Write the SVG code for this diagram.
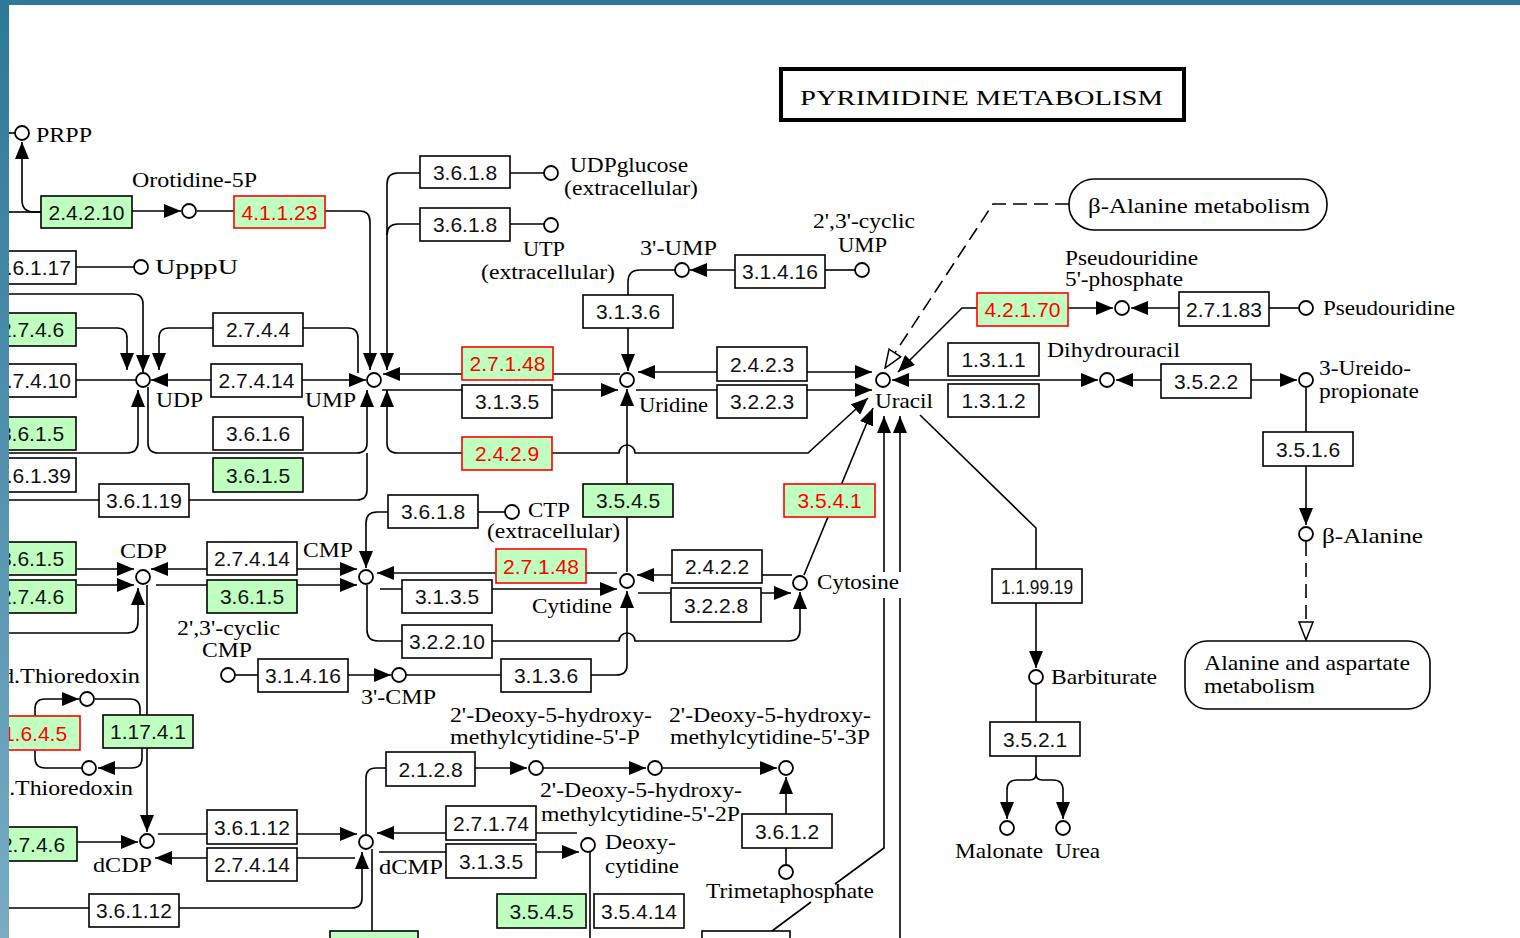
<svg xmlns="http://www.w3.org/2000/svg" width="1520" height="938" viewBox="0 0 1520 938">
<style>
.ln{fill:none;stroke:#000;stroke-width:1.6}
.ar{marker-end:url(#ah)}
.as{marker-start:url(#ah)}
.dash{stroke-dasharray:14 7}
.oa{marker-end:url(#oh)}
.ec rect{fill:#fff;stroke:#000;stroke-width:1.6}
.g rect{fill:#bfffbf}
.r rect{fill:#bfffbf;stroke:#f00}
.ec text{font-family:"Liberation Sans",Arial,sans-serif;font-size:21px;text-anchor:middle;fill:#111}
.r text{fill:#f00}
.cp circle{fill:#fff;stroke:#000;stroke-width:1.8}
.cp text,.lb{font-family:"Liberation Serif","Times New Roman",serif;font-size:21px;fill:#000}
.map rect{fill:#fff;stroke:#000;stroke-width:1.6}
</style>
<defs>
<marker id="ah" viewBox="0 0 17 14" refX="17" refY="7" markerWidth="17" markerHeight="14" markerUnits="userSpaceOnUse" orient="auto-start-reverse"><path d="M0,0 L17,7 L0,14 z" fill="#000"/></marker>
<marker id="oh" viewBox="0 0 20 16" refX="19" refY="8" markerWidth="20" markerHeight="16" markerUnits="userSpaceOnUse" orient="auto"><path d="M1,1 L19,8 L1,15 z" fill="#fff" stroke="#000" stroke-width="1.5"/></marker>
<linearGradient id="band" x1="0" y1="0" x2="0" y2="1"><stop offset="0" stop-color="#2d7898"/><stop offset="1" stop-color="#78acc5"/></linearGradient>
</defs>
<rect x="0" y="0" width="1520" height="938" fill="#fff"/>

<g id="connectors">
<path class="ln" d="M9,212 H41"/>
<path class="ln ar" d="M41,212 H34 Q22,212 22,200 V142"/>
<path class="ln" d="M9,133 H15"/>
<path class="ln ar" d="M132,211 H181"/>
<path class="ln" d="M197,211 H234"/>
<path class="ln ar" d="M325,211 H360 Q370,211 370,222 V370"/>
<path class="ln ar" d="M420,173 H398 Q387,173 387,184 V370"/>
<path class="ln" d="M420,224 H398 Q387,224 387,235"/>
<path class="ln" d="M510,173 H544"/>
<path class="ln" d="M510,224 H544"/>
<path class="ln" d="M76,267 H134"/>
<path class="ln ar" d="M76,328 H117 Q127,328 127,338 V370"/>
<path class="ln ar" d="M9,294 H133 Q143,294 143,304 V372"/>
<path class="ln ar" d="M213,328 H169 Q159,328 159,338 V370"/>
<path class="ln" d="M303,328 H348 Q358,328 358,338 V373"/>
<path class="ln" d="M76,380 H136"/>
<path class="ln ar" d="M211,380 H151"/>
<path class="ln ar" d="M302,380 H366"/>
<path class="ln ar" d="M620,374 H383"/>
<path class="ln ar" d="M382,390 H618"/>
<path class="ln as ar" d="M638,372 H872"/>
<path class="ln ar" d="M636,390 H872"/>
<path class="ln" d="M628,295 V282 Q628,270 640,270 H675"/>
<path class="ln ar" d="M628,328 V371"/>
<path class="ln ar" d="M735,270 H690"/>
<path class="ln" d="M825,270 H855"/>
<path class="ln ar" d="M9,453 H127 Q138,453 138,442 V390"/>
<path class="ln ar" d="M148,387 V443 Q148,453 158,453 H357 Q367,453 367,443 V390"/>
<path class="ln" d="M9,500 H99"/>
<path class="ln" d="M189,500 H357 Q367,500 367,490 V453"/>
<path class="ln ar" d="M462,453 H397 Q387,453 387,443 V390"/>
<path class="ln ar" d="M552,453 H619 A8,8 0 0 1 635,453 H808 L868,398"/>
<path class="ln ar" d="M627,484 V389"/>
<path class="ln" d="M627,517 V572"/>
<path class="ln dash oa" d="M1069,204 H993 L885,368"/>
<path class="ln ar" d="M977,308 H962 L898,372"/>
<path class="ln as ar" d="M892,380 H1098"/>
<path class="ln ar" d="M1068,308 H1113"/>
<path class="ln ar" d="M1179,308 H1131"/>
<path class="ln" d="M1269,308 H1299"/>
<path class="ln ar" d="M1161,380 H1116"/>
<path class="ln ar" d="M1251,380 H1297"/>
<path class="ln" d="M1306,388 V432"/>
<path class="ln ar" d="M1306,466 V525"/>
<path class="ln dash oa" d="M1306,542 V640"/>
<path class="ln ar" d="M884,572 V416"/>
<path class="ln" d="M835,884 L884,848 V598"/>
<path class="ln" d="M772,931 L811,902"/>
<path class="ln ar" d="M900,572 V416"/>
<path class="ln" d="M900,938 V598"/>
<path class="ln" d="M920,415 L1036,528 V569"/>
<path class="ln ar" d="M1036,603 V668"/>
<path class="ln" d="M1036,685 V722"/>
<path class="ln ar" d="M1036,756 V774 Q1036,780 1030,780 H1017 Q1007,780 1007,790 V819"/>
<path class="ln ar" d="M1036,774 Q1036,780 1042,780 H1053 Q1063,780 1063,790 V819"/>
<path class="ln" d="M762,575 H792"/>
<path class="ln ar" d="M672,575 H637"/>
<path class="ln ar" d="M638,593 H791"/>
<path class="ln ar" d="M367,585 V630 Q367,641 378,641 H619 A8,8 0 0 1 635,641 H789 Q800,641 800,630 V592"/>
<path class="ln ar" d="M804,575 L873,408"/>
<path class="ln ar" d="M617,573 H377"/>
<path class="ln ar" d="M380,589 H617"/>
<path class="ln as" d="M627,591 V665 Q627,675 617,675 H591"/>
<path class="ln" d="M501,675 H406"/>
<path class="ln ar" d="M388,512 H377 Q366,512 366,523 V568"/>
<path class="ln" d="M478,512 H505"/>
<path class="ln as ar" d="M151,569 H357"/>
<path class="ln ar" d="M156,585 H357"/>
<path class="ln ar" d="M77,569 H134"/>
<path class="ln ar" d="M77,585 H134"/>
<path class="ln ar" d="M9,633 H127 Q138,633 138,622 V588"/>
<path class="ln ar" d="M147,585 V832"/>
<path class="ln ar" d="M35,716 V709 Q35,699 45,699 H79"/>
<path class="ln" d="M95,699 H130 Q140,699 140,709 V715"/>
<path class="ln ar" d="M142,748 V758 Q142,768 132,768 H98"/>
<path class="ln" d="M82,768 H45 Q35,768 35,758 V750"/>
<path class="ln ar" d="M77,842 H138"/>
<path class="ln ar" d="M158,834 H357"/>
<path class="ln ar" d="M355,858 H155"/>
<path class="ln ar" d="M9,908 H352 Q362,908 362,898 V852"/>
<path class="ln" d="M372,849 V938"/>
<path class="ln ar" d="M577,833 H377"/>
<path class="ln ar" d="M379,852 H579"/>
<path class="ln" d="M366,834 V778 Q366,768 376,768 H386"/>
<path class="ln ar" d="M475,768 H527"/>
<path class="ln ar" d="M543,768 H646"/>
<path class="ln ar" d="M662,768 H777"/>
<path class="ln ar" d="M786,814 V777"/>
<path class="ln" d="M786,848 V865"/>
<path class="ln" d="M590,852 V938"/>
<path class="ln" d="M235,675 H258"/>
<path class="ln ar" d="M348,675 H391"/>
</g>

<g id="title"><rect x="781" y="69" width="403" height="51" fill="#fff" stroke="#000" stroke-width="4"/><text class="lb" x="800" y="105" font-size="27" textLength="363" lengthAdjust="spacingAndGlyphs">PYRIMIDINE METABOLISM</text></g>
<g id="map_bala" class="map"><rect x="1069" y="179" width="258" height="51" rx="25"/><text class="lb" x="1088" y="213" textLength="222" lengthAdjust="spacingAndGlyphs">β-Alanine metabolism</text></g>
<g id="map_alaasp" class="map"><rect x="1185" y="641" width="245" height="68" rx="22"/><text class="lb" x="1204" y="670" textLength="206" lengthAdjust="spacingAndGlyphs">Alanine and aspartate</text><text class="lb" x="1204" y="693" textLength="111" lengthAdjust="spacingAndGlyphs">metabolism</text></g>

<g id="e_2.4.2.10" class="ec g"><rect x="41" y="196" width="91" height="32"/><text x="86.5" y="219.5">2.4.2.10</text></g>
<g id="e_4.1.1.23" class="ec r"><rect x="234" y="196" width="91" height="32"/><text x="279.5" y="219.5">4.1.1.23</text></g>
<g id="e_3.6.1.17" class="ec"><rect x="-14" y="251" width="90" height="33"/><text x="33" y="275">3.6.1.17</text></g>
<g id="e_2.7.4.6a" class="ec g"><rect x="-14" y="313" width="90" height="33"/><text x="32" y="337">2.7.4.6</text></g>
<g id="e_2.7.4.10" class="ec"><rect x="-14" y="364" width="90" height="33"/><text x="33" y="388">2.7.4.10</text></g>
<g id="e_3.6.1.5a" class="ec g"><rect x="-14" y="417" width="90" height="33"/><text x="32" y="441">3.6.1.5</text></g>
<g id="e_3.6.1.39" class="ec"><rect x="-14" y="458" width="90" height="34"/><text x="33" y="482.5">3.6.1.39</text></g>
<g id="e_3.6.1.19" class="ec"><rect x="99" y="484" width="90" height="33"/><text x="144" y="508">3.6.1.19</text></g>
<g id="e_3.6.1.5b" class="ec g"><rect x="-14" y="542" width="90" height="33"/><text x="32" y="566">3.6.1.5</text></g>
<g id="e_2.7.4.6b" class="ec g"><rect x="-14" y="580" width="90" height="33"/><text x="32" y="604">2.7.4.6</text></g>
<g id="e_1.6.4.5" class="ec r"><rect x="-10" y="716" width="90" height="34"/><text x="35" y="740.5">1.6.4.5</text></g>
<g id="e_1.17.4.1" class="ec g"><rect x="103" y="715" width="90" height="33"/><text x="148" y="739">1.17.4.1</text></g>
<g id="e_2.7.4.6c" class="ec g"><rect x="-14" y="827" width="91" height="34"/><text x="33" y="851.5">2.7.4.6</text></g>
<g id="e_3.6.1.12b" class="ec"><rect x="89" y="894" width="90" height="33"/><text x="134" y="918">3.6.1.12</text></g>
<g id="e_2.7.4.4" class="ec"><rect x="213" y="313" width="90" height="33"/><text x="258" y="337">2.7.4.4</text></g>
<g id="e_2.7.4.14a" class="ec"><rect x="211" y="364" width="91" height="33"/><text x="256.5" y="388">2.7.4.14</text></g>
<g id="e_3.6.1.6" class="ec"><rect x="213" y="417" width="90" height="33"/><text x="258" y="441">3.6.1.6</text></g>
<g id="e_3.6.1.5c" class="ec g"><rect x="213" y="458" width="90" height="34"/><text x="258" y="482.5">3.6.1.5</text></g>
<g id="e_3.6.1.8a" class="ec"><rect x="420" y="156" width="90" height="32"/><text x="465" y="179.5">3.6.1.8</text></g>
<g id="e_3.6.1.8b" class="ec"><rect x="420" y="208" width="90" height="33"/><text x="465" y="232">3.6.1.8</text></g>
<g id="e_3.1.3.6a" class="ec"><rect x="583" y="295" width="90" height="33"/><text x="628" y="319">3.1.3.6</text></g>
<g id="e_3.1.4.16a" class="ec"><rect x="735" y="255" width="90" height="33"/><text x="780" y="279">3.1.4.16</text></g>
<g id="e_2.7.1.48a" class="ec r"><rect x="462" y="347" width="91" height="33"/><text x="507.5" y="371">2.7.1.48</text></g>
<g id="e_3.1.3.5a" class="ec"><rect x="462" y="385" width="90" height="33"/><text x="507" y="409">3.1.3.5</text></g>
<g id="e_2.4.2.9" class="ec r"><rect x="462" y="437" width="90" height="33"/><text x="507" y="461">2.4.2.9</text></g>
<g id="e_2.4.2.3" class="ec"><rect x="717" y="347" width="90" height="34"/><text x="762" y="371.5">2.4.2.3</text></g>
<g id="e_3.2.2.3" class="ec"><rect x="717" y="385" width="90" height="33"/><text x="762" y="409">3.2.2.3</text></g>
<g id="e_3.5.4.5a" class="ec g"><rect x="583" y="484" width="90" height="33"/><text x="628" y="508">3.5.4.5</text></g>
<g id="e_3.5.4.1" class="ec r"><rect x="784" y="484" width="91" height="33"/><text x="829.5" y="508">3.5.4.1</text></g>
<g id="e_3.6.1.8c" class="ec"><rect x="388" y="495" width="90" height="33"/><text x="433" y="519">3.6.1.8</text></g>
<g id="e_2.7.4.14b" class="ec"><rect x="207" y="542" width="90" height="33"/><text x="252" y="566">2.7.4.14</text></g>
<g id="e_3.6.1.5d" class="ec g"><rect x="207" y="580" width="90" height="33"/><text x="252" y="604">3.6.1.5</text></g>
<g id="e_2.7.1.48b" class="ec r"><rect x="496" y="549" width="90" height="34"/><text x="541" y="573.5">2.7.1.48</text></g>
<g id="e_3.1.3.5b" class="ec"><rect x="402" y="580" width="90" height="33"/><text x="447" y="604">3.1.3.5</text></g>
<g id="e_2.4.2.2" class="ec"><rect x="672" y="550" width="90" height="33"/><text x="717" y="574">2.4.2.2</text></g>
<g id="e_3.2.2.8" class="ec"><rect x="671" y="588" width="90" height="34"/><text x="716" y="612.5">3.2.2.8</text></g>
<g id="e_3.2.2.10" class="ec"><rect x="402" y="625" width="90" height="33"/><text x="447" y="649">3.2.2.10</text></g>
<g id="e_3.1.4.16b" class="ec"><rect x="258" y="659" width="90" height="33"/><text x="303" y="683">3.1.4.16</text></g>
<g id="e_3.1.3.6b" class="ec"><rect x="501" y="659" width="90" height="33"/><text x="546" y="683">3.1.3.6</text></g>
<g id="e_2.1.2.8" class="ec"><rect x="386" y="752" width="89" height="34"/><text x="430.5" y="776.5">2.1.2.8</text></g>
<g id="e_2.7.1.74" class="ec"><rect x="446" y="806" width="90" height="34"/><text x="491" y="830.5">2.7.1.74</text></g>
<g id="e_3.1.3.5c" class="ec"><rect x="446" y="844" width="90" height="34"/><text x="491" y="868.5">3.1.3.5</text></g>
<g id="e_3.6.1.12a" class="ec"><rect x="207" y="810" width="90" height="34"/><text x="252" y="834.5">3.6.1.12</text></g>
<g id="e_2.7.4.14c" class="ec"><rect x="207" y="848" width="90" height="33"/><text x="252" y="872">2.7.4.14</text></g>
<g id="e_3.6.1.2" class="ec"><rect x="742" y="814" width="90" height="34"/><text x="787" y="838.5">3.6.1.2</text></g>
<g id="e_3.5.4.5b" class="ec g"><rect x="497" y="894" width="89" height="34"/><text x="541.5" y="918.5">3.5.4.5</text></g>
<g id="e_3.5.4.14" class="ec"><rect x="594" y="894" width="90" height="34"/><text x="639" y="918.5">3.5.4.14</text></g>
<g id="e_bottom1" class="ec g"><rect x="330" y="931" width="88" height="30"/></g>
<g id="e_bottom2" class="ec"><rect x="702" y="931" width="88" height="30"/></g>
<g id="e_4.2.1.70" class="ec r"><rect x="977" y="293" width="91" height="33"/><text x="1022.5" y="317">4.2.1.70</text></g>
<g id="e_2.7.1.83" class="ec"><rect x="1179" y="292" width="90" height="34"/><text x="1224" y="316.5">2.7.1.83</text></g>
<g id="e_1.3.1.1" class="ec"><rect x="948" y="343" width="91" height="33"/><text x="993.5" y="367">1.3.1.1</text></g>
<g id="e_1.3.1.2" class="ec"><rect x="948" y="384" width="91" height="33"/><text x="993.5" y="408">1.3.1.2</text></g>
<g id="e_3.5.2.2" class="ec"><rect x="1161" y="364" width="90" height="34"/><text x="1206" y="388.5">3.5.2.2</text></g>
<g id="e_3.5.1.6" class="ec"><rect x="1263" y="432" width="90" height="34"/><text x="1308" y="456.5">3.5.1.6</text></g>
<g id="e_1.1.99.19" class="ec"><rect x="992" y="569" width="90" height="34"/><text x="1037" y="593.5" textLength="72" lengthAdjust="spacingAndGlyphs">1.1.99.19</text></g>
<g id="e_3.5.2.1" class="ec"><rect x="990" y="722" width="90" height="34"/><text x="1035" y="746.5">3.5.2.1</text></g>

<g id="c_prpp" class="cp"><circle cx="22" cy="133" r="7"/><text x="36" y="142" textLength="56" lengthAdjust="spacingAndGlyphs">PRPP</text></g>
<g id="c_orotidine5p" class="cp"><circle cx="189" cy="211" r="7"/><text x="132" y="187" textLength="125" lengthAdjust="spacingAndGlyphs">Orotidine-5P</text></g>
<g id="c_upppu" class="cp"><circle cx="141" cy="267" r="7"/><text x="155" y="274" textLength="83" lengthAdjust="spacingAndGlyphs">UpppU</text></g>
<g id="c_udpglucose" class="cp"><circle cx="551" cy="173" r="7"/><text x="570" y="172" textLength="118" lengthAdjust="spacingAndGlyphs">UDPglucose</text><text x="564" y="195" textLength="134" lengthAdjust="spacingAndGlyphs">(extracellular)</text></g>
<g id="c_utp_ext" class="cp"><circle cx="551" cy="225" r="7"/><text x="523" y="256" textLength="42" lengthAdjust="spacingAndGlyphs">UTP</text><text x="481" y="279" textLength="134" lengthAdjust="spacingAndGlyphs">(extracellular)</text></g>
<g id="c_3ump" class="cp"><circle cx="682" cy="270" r="7"/><text x="640" y="255" textLength="77" lengthAdjust="spacingAndGlyphs">3'-UMP</text></g>
<g id="c_cump" class="cp"><circle cx="862" cy="270" r="7"/><text x="813" y="228" textLength="102" lengthAdjust="spacingAndGlyphs">2',3'-cyclic</text><text x="838" y="252" textLength="49" lengthAdjust="spacingAndGlyphs">UMP</text></g>
<g id="c_udp" class="cp"><circle cx="143" cy="380" r="7"/><text x="156" y="407" textLength="47" lengthAdjust="spacingAndGlyphs">UDP</text></g>
<g id="c_ump" class="cp"><circle cx="374" cy="380" r="7"/><text x="305" y="407" textLength="51" lengthAdjust="spacingAndGlyphs">UMP</text></g>
<g id="c_uridine" class="cp"><circle cx="627" cy="380" r="7"/><text x="639" y="412" textLength="69" lengthAdjust="spacingAndGlyphs">Uridine</text></g>
<g id="c_uracil" class="cp"><circle cx="883" cy="380" r="7"/><text x="875" y="408" textLength="58" lengthAdjust="spacingAndGlyphs">Uracil</text></g>
<g id="c_psu5p" class="cp"><circle cx="1122" cy="308" r="7"/><text x="1065" y="265" textLength="133" lengthAdjust="spacingAndGlyphs">Pseudouridine</text><text x="1065" y="286" textLength="118" lengthAdjust="spacingAndGlyphs">5'-phosphate</text></g>
<g id="c_psu" class="cp"><circle cx="1306" cy="308" r="7"/><text x="1323" y="315" textLength="132" lengthAdjust="spacingAndGlyphs">Pseudouridine</text></g>
<g id="c_dihydrouracil" class="cp"><circle cx="1107" cy="380" r="7"/><text x="1047" y="357" textLength="133" lengthAdjust="spacingAndGlyphs">Dihydrouracil</text></g>
<g id="c_ureidopropionate" class="cp"><circle cx="1306" cy="380" r="7"/><text x="1319" y="375" textLength="92" lengthAdjust="spacingAndGlyphs">3-Ureido-</text><text x="1319" y="398" textLength="100" lengthAdjust="spacingAndGlyphs">propionate</text></g>
<g id="c_balanine" class="cp"><circle cx="1306" cy="534" r="7"/><text x="1322" y="543" textLength="101" lengthAdjust="spacingAndGlyphs">β-Alanine</text></g>
<g id="c_barbiturate" class="cp"><circle cx="1036" cy="677" r="7"/><text x="1051" y="684" textLength="106" lengthAdjust="spacingAndGlyphs">Barbiturate</text></g>
<g id="c_malonate" class="cp"><circle cx="1007" cy="828" r="7"/><text x="955" y="858" textLength="88" lengthAdjust="spacingAndGlyphs">Malonate</text></g>
<g id="c_urea" class="cp"><circle cx="1063" cy="828" r="7"/><text x="1055" y="858" textLength="45" lengthAdjust="spacingAndGlyphs">Urea</text></g>
<g id="c_ctp_ext" class="cp"><circle cx="512" cy="512" r="7"/><text x="528" y="517" textLength="42" lengthAdjust="spacingAndGlyphs">CTP</text><text x="487" y="538" textLength="133" lengthAdjust="spacingAndGlyphs">(extracellular)</text></g>
<g id="c_cdp" class="cp"><circle cx="143" cy="577" r="7"/><text x="120" y="558" textLength="47" lengthAdjust="spacingAndGlyphs">CDP</text></g>
<g id="c_cmp" class="cp"><circle cx="366" cy="577" r="7"/><text x="303" y="557" textLength="50" lengthAdjust="spacingAndGlyphs">CMP</text></g>
<g id="c_cytidine" class="cp"><circle cx="627" cy="581" r="7"/><text x="532" y="613" textLength="80" lengthAdjust="spacingAndGlyphs">Cytidine</text></g>
<g id="c_cytosine" class="cp"><circle cx="800" cy="583" r="7"/><text x="817" y="589" textLength="82" lengthAdjust="spacingAndGlyphs">Cytosine</text></g>
<g id="c_ccmp" class="cp"><circle cx="228" cy="675" r="7"/><text x="177" y="635" textLength="103" lengthAdjust="spacingAndGlyphs">2',3'-cyclic</text><text x="202" y="657" textLength="50" lengthAdjust="spacingAndGlyphs">CMP</text></g>
<g id="c_3cmp" class="cp"><circle cx="399" cy="675" r="7"/><text x="361" y="704" textLength="75" lengthAdjust="spacingAndGlyphs">3'-CMP</text></g>
<g id="c_red_trx" class="cp"><circle cx="87" cy="699" r="7"/><text x="-25" y="683" textLength="165" lengthAdjust="spacingAndGlyphs">Red.Thioredoxin</text></g>
<g id="c_ox_trx" class="cp"><circle cx="89" cy="768" r="7"/><text x="-20" y="795" textLength="153" lengthAdjust="spacingAndGlyphs">Ox.Thioredoxin</text></g>
<g id="c_dcdp" class="cp"><circle cx="147" cy="841" r="7"/><text x="93" y="872" textLength="59" lengthAdjust="spacingAndGlyphs">dCDP</text></g>
<g id="c_dcmp" class="cp"><circle cx="366" cy="842" r="7"/><text x="379" y="874" textLength="64" lengthAdjust="spacingAndGlyphs">dCMP</text></g>
<g id="c_deoxycytidine" class="cp"><circle cx="588" cy="845" r="7"/><text x="605" y="849" textLength="71" lengthAdjust="spacingAndGlyphs">Deoxy-</text><text x="605" y="873" textLength="74" lengthAdjust="spacingAndGlyphs">cytidine</text></g>
<g id="c_hmdcmp" class="cp"><circle cx="536" cy="768" r="7"/><text x="450" y="722" textLength="202" lengthAdjust="spacingAndGlyphs">2'-Deoxy-5-hydroxy-</text><text x="450" y="744" textLength="190" lengthAdjust="spacingAndGlyphs">methylcytidine-5'-P</text></g>
<g id="c_hmdcdp" class="cp"><circle cx="655" cy="768" r="7"/><text x="540" y="797" textLength="202" lengthAdjust="spacingAndGlyphs">2'-Deoxy-5-hydroxy-</text><text x="541" y="821" textLength="199" lengthAdjust="spacingAndGlyphs">methylcytidine-5'-2P</text></g>
<g id="c_hmdctp" class="cp"><circle cx="786" cy="768" r="7"/><text x="669" y="722" textLength="202" lengthAdjust="spacingAndGlyphs">2'-Deoxy-5-hydroxy-</text><text x="670" y="744" textLength="200" lengthAdjust="spacingAndGlyphs">methylcytidine-5'-3P</text></g>
<g id="c_trimetaphosphate" class="cp"><circle cx="786" cy="872" r="7"/><text x="706" y="898" textLength="168" lengthAdjust="spacingAndGlyphs">Trimetaphosphate</text></g>

<rect x="0" y="0" width="9" height="938" fill="url(#band)"/>
<rect x="0" y="0" width="1520" height="5" fill="#2e799a"/>
</svg>
